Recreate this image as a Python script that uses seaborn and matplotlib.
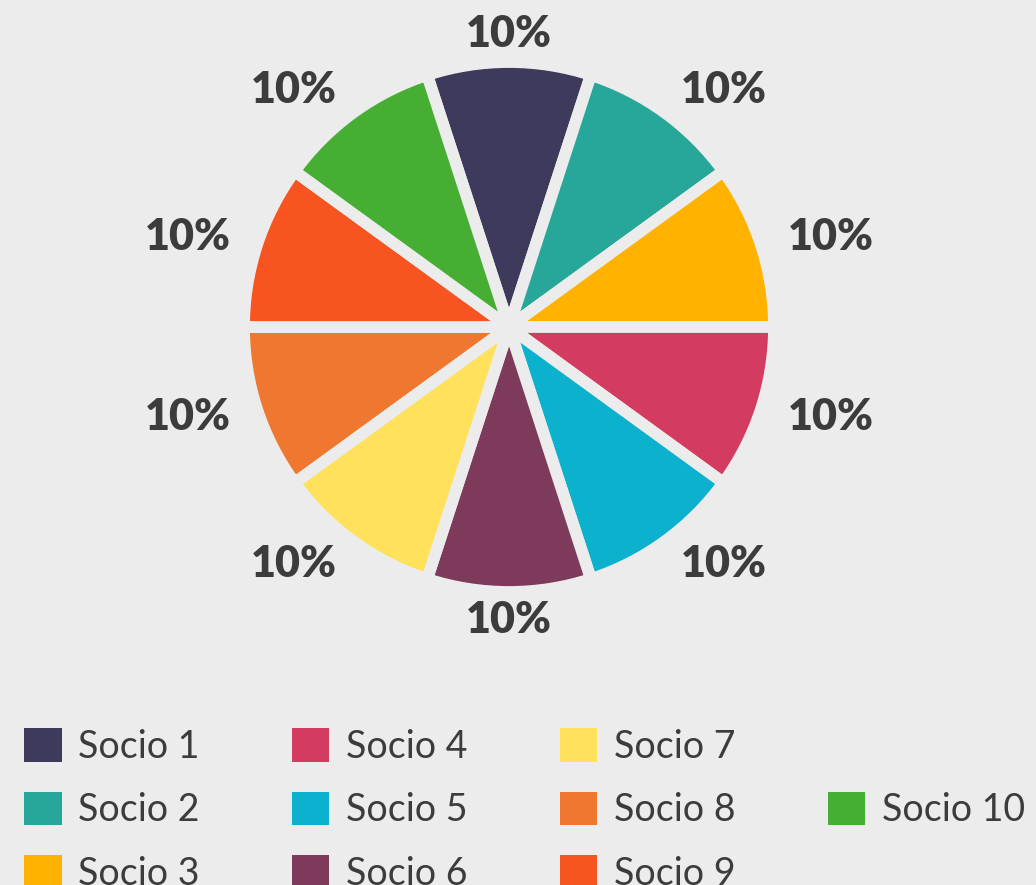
import numpy as np
import matplotlib
matplotlib.use("Agg")
import matplotlib.pyplot as plt
from matplotlib.patches import Patch
import seaborn as sns

socios = ["Socio 1", "Socio 2", "Socio 3", "Socio 4", "Socio 5",
          "Socio 6", "Socio 7", "Socio 8", "Socio 9", "Socio 10"]
shares = [10, 10, 10, 10, 10, 10, 10, 10, 10, 10]
colors = ["#3d3a5c", "#27a79a", "#ffb300", "#d33b61", "#0bb1cd",
          "#7e3a5b", "#ffe15c", "#ef772f", "#f75421", "#46ae33"]

bg = "#ececec"
txt = "#3c3c3c"

sns.set_theme(style="white")
plt.rcParams['font.family'] = ['Lato', 'DejaVu Sans']

fig = plt.figure(figsize=(10.36, 8.85), dpi=100)
fig.patch.set_facecolor(bg)

W, H = 1036, 885
cx, cy, R = 509, 327, 265
ax = fig.add_axes([(cx - R) / W, (H - cy - R) / H, 2 * R / W, 2 * R / H])
ax.set_facecolor(bg)

pal = sns.color_palette(colors)
wedges, _, autotexts = ax.pie(
    shares, colors=pal, startangle=108, counterclock=False,
    autopct='%d%%', pctdistance=1.105,
    wedgeprops=dict(edgecolor=bg, linewidth=8.5),
    textprops=dict(color=txt, fontsize=31, fontweight='heavy'))

# align like the original: text grows away from the pie
for t in autotexts:
    x, y = t.get_position()
    if x > 0.15:
        t.set_ha('left')
    elif x < -0.15:
        t.set_ha('right')
    else:
        t.set_ha('center')
    t.set_va('center')

ax.set_xlim(-1, 1)
ax.set_ylim(-1, 1)
ax.set_aspect('equal')
ax.axis('off')

# legend: 3 rows per column, Socio 10 sits in the middle of the last column
handles = [Patch(facecolor=c, edgecolor='none', label=s) for c, s in zip(pal, socios)]
blank = Patch(visible=False, label='')
order = handles[:9] + [blank, handles[9], blank]
fig.legend(handles=order, labels=[h.get_label() for h in order],
           ncol=4, loc='upper left',
           bbox_to_anchor=(24 / W, 1 - 728 / H), bbox_transform=fig.transFigure,
           frameon=False, fontsize=27, labelcolor=txt,
           handlelength=1.0, handleheight=1.0, handletextpad=0.45,
           labelspacing=0.72, columnspacing=2.45, borderpad=0, borderaxespad=0)

fig.savefig("out.png", dpi=100, facecolor=bg)
